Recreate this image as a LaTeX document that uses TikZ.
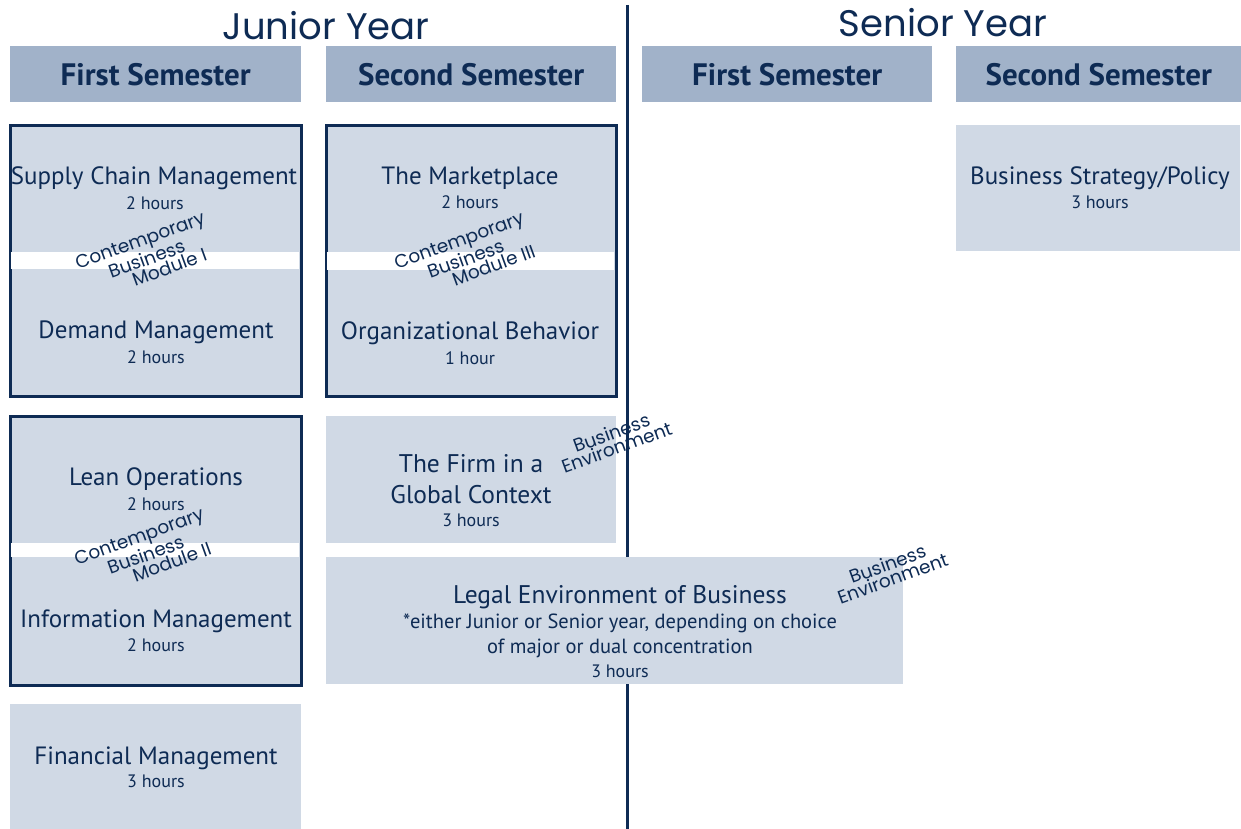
\documentclass[tikz,border=0pt]{standalone}
\usepackage{fontspec}
\setmainfont{PT Sans}
\newfontfamily\handfont{Poppins}
\definecolor{hdrfill}{RGB}{161,178,201}
\definecolor{boxfill}{RGB}{208,217,229}
\definecolor{navy}{RGB}{14,43,84}
\tikzset{
  hdr/.style={fill=hdrfill, text=navy, font=\bfseries\fontsize{31}{34}\selectfont, minimum height=56pt, anchor=north west, inner sep=0pt},
  course/.style={fill=boxfill, anchor=north west, inner sep=0pt},
  modbox/.style={fill=boxfill, draw=navy, line width=2pt, anchor=north west, inner sep=0pt},
  stripe/.style={fill=white, anchor=north west, inner sep=0pt},
  ctitle/.style={text=navy, font=\fontsize{25}{28}\selectfont, inner sep=0pt},
  ctitlec/.style={text=navy, font=\fontsize{25.5}{31}\selectfont, inner sep=0pt},
  hrs/.style={text=navy, font=\fontsize{18}{20}\selectfont, inner sep=0pt},
  note/.style={text=navy, font=\fontsize{20.5}{22}\selectfont, inner sep=0pt},
  hand/.style={text=navy, font=\handfont\fontsize{18.5}{15.5}\selectfont, align=center, rotate=20, inner sep=0pt},
  year/.style={text=navy, font=\handfont\fontsize{37}{39}\selectfont, inner sep=0pt},
  divider/.style={draw=navy, line width=3pt}
}
\begin{document}
\begin{tikzpicture}[x=1pt,y=-1pt]
\useasboundingbox (0,0) rectangle (1241,829);
% divider line
\coordinate (ltop) at (627,5);
\coordinate (lbot) at (627,829);
\draw[divider] (ltop) -- (lbot);
% year titles
\node[year] (jy) at (326,26) {Junior Year};
\node[year] (sy) at (943,23) {Senior Year};
% headers
\node[hdr, minimum width=291pt] (h1) at (10,46) {First Semester};
\node[hdr, minimum width=290pt] (h2) at (326,46) {Second Semester};
\node[hdr, minimum width=290pt] (h3) at (642,46) {First Semester};
\node[hdr, minimum width=285pt] (h4) at (956,46) {Second Semester};
% module box I
\node[modbox, minimum width=290pt, minimum height=270pt] (m1) at (10,125) {};
\node[stripe, minimum width=288pt, minimum height=17pt] (s1) at (11,252) {};
\draw[navy, line width=2pt] (m1.north west) rectangle (m1.south east);
\node[ctitle] (scm) at (154,178) {Supply Chain Management};
\node[hrs] (scmh) at (155,203) {2 hours};
\node[ctitle] (dm) at (156,332) {Demand Management};
\node[hrs] (dmh) at (156,357) {2 hours};
% module box III
\node[modbox, minimum width=289pt, minimum height=270pt] (m3) at (326,125) {};
\node[stripe, minimum width=287pt, minimum height=18pt] (s3) at (327,252) {};
\draw[navy, line width=2pt] (m3.north west) rectangle (m3.south east);
\node[ctitle] (mp) at (470,178) {The Marketplace};
\node[hrs] (mph) at (470,202) {2 hours};
\node[ctitle] (ob) at (470,333) {Organizational Behavior};
\node[hrs] (obh) at (470,358) {1 hour};
% module box II
\node[modbox, minimum width=290pt, minimum height=268pt] (m2) at (10,416) {};
\node[stripe, minimum width=288pt, minimum height=14pt] (s2) at (11,543) {};
\draw[navy, line width=2pt] (m2.north west) rectangle (m2.south east);
\node[ctitle] (lo) at (156,479) {Lean Operations};
\node[hrs] (loh) at (156,504) {2 hours};
\node[ctitle] (im) at (156,621) {Information Management};
\node[hrs] (imh) at (156,645) {2 hours};
% financial management
\node[course, minimum width=291pt, minimum height=125pt] (fm) at (10,704) {};
\node[ctitle] (fmt) at (156,758) {Financial Management};
\node[hrs] (fmh) at (156,781) {3 hours};
% firm in global context
\node[course, minimum width=290pt, minimum height=127pt] (fg) at (326,416) {};
\node[ctitlec, align=center] (fgt) at (471,479) {The Firm in a\\Global Context};
\node[hrs] (fgh) at (471,520) {3 hours};
% legal environment
\node[course, minimum width=577pt, minimum height=127pt] (le) at (326,557) {};
\node[ctitlec] (let) at (620,597) {Legal Environment of Business};
\node[note] (le1) at (620,623) {*either Junior or Senior year, depending on choice};
\node[note] (le2) at (620,648) {of major or dual concentration};
\node[hrs] (leh) at (620,671) {3 hours};
% business strategy
\node[course, minimum width=284pt, minimum height=126pt] (bs) at (956,125) {};
\node[ctitle] (bst) at (1100,178) {Business Strategy/Policy};
\node[hrs] (bsh) at (1100,202) {3 hours};
% handwritten annotations
\node[hand] (a1) at (146,257) {Contemporary\\Business\\\hspace*{2em}Module I};
\node[hand] (a3) at (465,257) {Contemporary\\Business\\\hspace*{2.6em}Module III};
\node[hand] (a2) at (145,553) {Contemporary\\Business\\\hspace*{2.4em}Module II};
\node[hand] (b1) at (614,440) {Business\\Environment};
\node[hand] (b2) at (890,571) {Business\\Environment};
\end{tikzpicture}
\end{document}
